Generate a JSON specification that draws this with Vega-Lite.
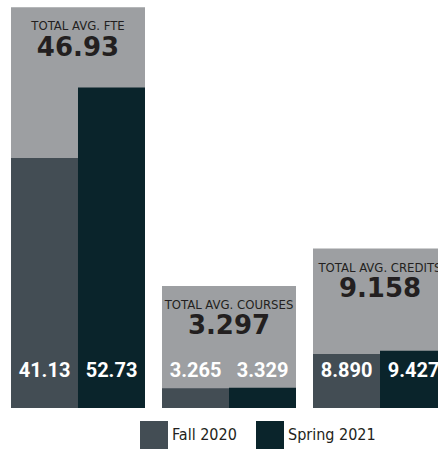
{
  "$schema": "https://vega.github.io/schema/vega-lite/v6.json",
  "width": 438,
  "height": 408,
  "autosize": {"type": "none"},
  "padding": {"left": 0, "top": 0, "right": 0, "bottom": 41},
  "background": "#ffffff",
  "config": {"view": {"stroke": null}},
  "datasets": {
    "bars": [
      {"group": "FTE", "series": "Fall 2020", "value": 41.13, "label": "41.13"},
      {"group": "FTE", "series": "Spring 2021", "value": 52.73, "label": "52.73"},
      {"group": "COURSES", "series": "Fall 2020", "value": 3.265, "label": "3.265"},
      {"group": "COURSES", "series": "Spring 2021", "value": 3.329, "label": "3.329"},
      {"group": "CREDITS", "series": "Fall 2020", "value": 8.89, "label": "8.890"},
      {"group": "CREDITS", "series": "Spring 2021", "value": 9.427, "label": "9.427"}
    ],
    "groups": [
      {"group": "FTE", "title": "TOTAL AVG. FTE", "total": 46.93, "totalLabel": "46.93"},
      {"group": "COURSES", "title": "TOTAL AVG. COURSES", "total": 3.297, "totalLabel": "3.297"},
      {"group": "CREDITS", "title": "TOTAL AVG. CREDITS", "total": 9.158, "totalLabel": "9.158"}
    ]
  },
  "encoding": {
    "x": {
      "field": "group",
      "type": "nominal",
      "sort": ["FTE", "COURSES", "CREDITS"],
      "scale": {"domain": ["FTE", "COURSES", "CREDITS"], "range": [11, 447], "paddingInner": 0.1126, "paddingOuter": 0},
      "axis": null
    }
  },
  "layer": [
    {
      "data": {"name": "groups"},
      "encoding": {
        "y": {"field": "total", "type": "quantitative", "scale": {"domain": [0, 63.9], "nice": false, "zero": true}, "axis": null}
      },
      "layer": [
        {
          "mark": {"type": "bar", "color": "#9d9fa2", "yOffset": -101},
          "encoding": {"y2": {"datum": 0}}
        },
        {
          "mark": {"type": "text", "align": "center", "baseline": "alphabetic", "dy": -78, "font": "DejaVu Sans Condensed, sans-serif", "fontSize": 13, "color": "#231f20"},
          "encoding": {"text": {"field": "title"}}
        },
        {
          "mark": {"type": "text", "align": "center", "baseline": "alphabetic", "dy": -52.5, "font": "DejaVu Sans", "fontWeight": "bold", "fontSize": 26, "color": "#231f20"},
          "encoding": {"text": {"field": "totalLabel"}}
        }
      ]
    },
    {
      "data": {"name": "bars"},
      "layer": [
        {
          "mark": {"type": "bar"},
          "encoding": {
            "xOffset": {"field": "series", "type": "nominal", "scale": {"domain": ["Fall 2020", "Spring 2021"], "paddingInner": 0, "paddingOuter": 0}},
            "y": {"field": "value", "type": "quantitative", "scale": {"domain": [0, 67.14], "nice": false, "zero": true}, "axis": null},
            "color": {
              "field": "series",
              "type": "nominal",
              "scale": {"domain": ["Fall 2020", "Spring 2021"], "range": ["#434d54", "#0a242b"]},
              "legend": {
                "orient": "none",
                "legendX": 140,
                "legendY": 421,
                "direction": "horizontal",
                "title": null,
                "symbolType": "square",
                "symbolSize": 784,
                "symbolStrokeWidth": 0,
                "symbolOpacity": 1,
                "labelFont": "DejaVu Sans Condensed, sans-serif",
                "labelFontSize": 16,
                "labelColor": "#231f20",
                "labelOffset": 4,
                "columnPadding": 19,
                "padding": 0
              }
            }
          }
        },
        {
          "mark": {"type": "text", "align": "center", "baseline": "alphabetic", "dy": -31, "font": "Roboto", "fontWeight": "bold", "fontSize": 20, "color": "#ffffff"},
          "encoding": {
            "xOffset": {"field": "series", "type": "nominal", "scale": {"domain": ["Fall 2020", "Spring 2021"], "paddingInner": 0, "paddingOuter": 0}},
            "y": {"datum": 0, "type": "quantitative", "scale": {"domain": [0, 67.14], "nice": false, "zero": true}, "axis": null},
            "text": {"field": "label"}
          }
        }
      ]
    }
  ],
  "resolve": {"scale": {"y": "independent"}}
}
